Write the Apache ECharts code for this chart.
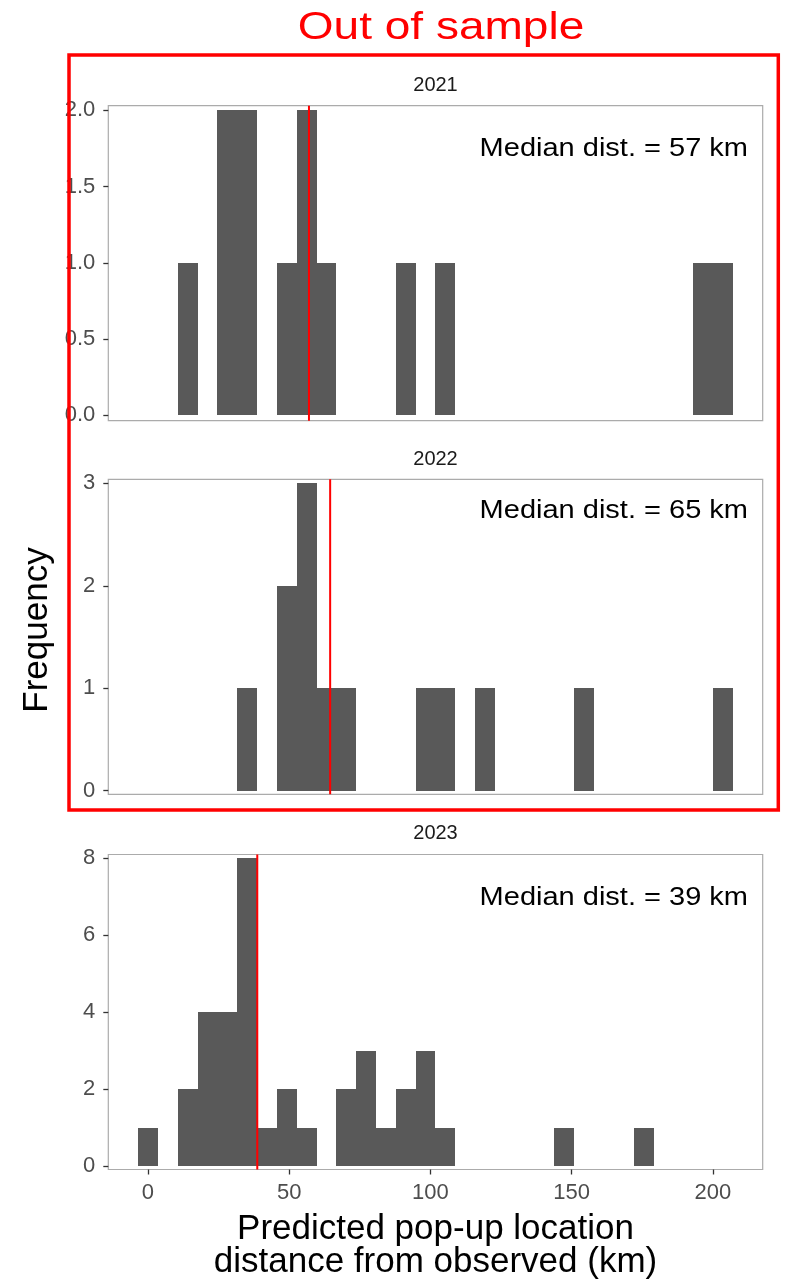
<!DOCTYPE html>
<html>
<head>
<meta charset="utf-8">
<script src="https://cdn.jsdelivr.net/npm/echarts@6/dist/echarts.min.js"></script>
<style>
  html, body { margin: 0; padding: 0; background: #ffffff; }
  #chart { width: 785px; height: 1283px; }
</style>
</head>
<body>
<div id="chart"></div>
<script>
// ---------- data ----------
const years = ['2021', '2022', '2023'];
// histogram bin edges (km), 30 bins
const binEdges = [-3.51, 3.51, 10.53, 17.55, 24.57, 31.59, 38.61, 45.63, 52.65, 59.67,
  66.69, 73.71, 80.73, 87.75, 94.77, 101.79, 108.81, 115.83, 122.85, 129.87,
  136.89, 143.91, 150.93, 157.95, 164.97, 171.99, 179.01, 186.03, 193.05, 200.07, 207.09];
const counts2021 = [0,0,1,0,2,2,0,1,2,1,0,0,0,1,0,1,0,0,0,0,0,0,0,0,0,0,0,0,1,1];
const counts2022 = [0,0,0,0,0,1,0,2,3,1,1,0,0,0,1,1,0,1,0,0,0,0,1,0,0,0,0,0,0,1];
const counts2023 = [1,0,2,4,4,8,1,2,1,0,2,3,1,2,3,1,0,0,0,0,0,1,0,0,0,1,0,0,0,0];
const medianKm = [57, 64.5, 38.7];
const medianText = ['Median dist. = 57 km', 'Median dist. = 65 km', 'Median dist. = 39 km'];
const yTicks2021 = [0, 0.5, 1, 1.5, 2];
const yTicks2022 = [0, 1, 2, 3];
const yTicks2023 = [0, 2, 4, 6, 8];
const xTicks = [0, 50, 100, 150, 200];
const titleText = 'Out of sample';
const yTitle = 'Frequency';
const xTitle1 = 'Predicted pop-up location';
const xTitle2 = 'distance from observed (km)';

// ---------- layout ----------
const FONT = '"Liberation Sans", Arial, sans-serif';
const allCounts = [counts2021, counts2022, counts2023];
const allTicks = [yTicks2021, yTicks2022, yTicks2023];
const yRange = [[-0.035, 2.03], [-0.035, 3.04], [-0.085, 8.085]];
const gridTops = [105.7, 479.3, 854.5];
const gridLeft = 108.3, gridWidth = 654.4, gridHeight = 315;
const xMin = -14.04, xMax = 217.63;

const chart = echarts.init(document.getElementById('chart'), null, { renderer: 'canvas' });

const grids = [], xAxes = [], yAxes = [], series = [];
for (let i = 0; i < 3; i++) {
  grids.push({
    left: gridLeft, top: gridTops[i], width: gridWidth, height: gridHeight,
    show: true, borderColor: '#ABABAB', borderWidth: 1.2, backgroundColor: '#fff',
    containLabel: false, outerBoundsMode: 'none'
  });
  const bottom = i === 2;
  xAxes.push({
    gridIndex: i, type: 'value', min: xMin, max: xMax, position: 'bottom',
    axisLine: { show: false, onZero: false }, splitLine: { show: false },
    axisTick: { show: bottom, length: 5, lineStyle: { color: '#333', width: 1.3 }, customValues: xTicks },
    axisLabel: { show: bottom, customValues: xTicks, fontSize: 22, color: '#4D4D4D', fontFamily: FONT, margin: 12 }
  });
  yAxes.push({
    gridIndex: i, type: 'value', min: yRange[i][0], max: yRange[i][1], position: 'left',
    axisLine: { show: false, onZero: false }, splitLine: { show: false },
    axisTick: { show: true, length: 5, lineStyle: { color: '#333', width: 1.3 }, customValues: allTicks[i] },
    axisLabel: {
      customValues: allTicks[i], fontSize: 22, color: '#4D4D4D', fontFamily: FONT, margin: 13,
      formatter: i === 0 ? (v => Number(v).toFixed(1)) : (v => String(Math.round(v)))
    }
  });
  const data = [];
  allCounts[i].forEach((c, k) => { if (c > 0) data.push([binEdges[k], binEdges[k + 1], c]); });
  series.push({
    type: 'custom', xAxisIndex: i, yAxisIndex: i, silent: true,
    encode: { x: [0, 1], y: 2 },
    renderItem: function (params, api) {
      const p0 = api.coord([api.value(0), api.value(2)]);
      const p1 = api.coord([api.value(1), 0]);
      const x0 = Math.round(p0[0]), x1 = Math.round(p1[0]);
      const y0 = Math.round(p0[1]), y1 = Math.round(p1[1]);
      return {
        type: 'rect',
        shape: { x: x0, y: y0, width: x1 - x0, height: y1 - y0 },
        style: { fill: '#595959' }
      };
    },
    data: data
  });
  series.push({
    type: 'line', xAxisIndex: i, yAxisIndex: i, silent: true, symbol: 'none', z: 5,
    lineStyle: { color: '#FF0000', width: 2 },
    data: [[medianKm[i], yRange[i][0]], [medianKm[i], yRange[i][1]]]
  });
}

const stripY = [85, 459.4, 833.4];
const medY = [149, 511, 898.5];
const graphic = [
  { type: 'text', x: 441, y: 28, scaleX: 1.18, z: 100,
    style: { text: titleText, fill: '#FF0000', font: '39px ' + FONT, textAlign: 'center', textVerticalAlign: 'middle' } },
  { type: 'rect', z: 100, shape: { x: 69, y: 55, width: 709.3, height: 755 },
    style: { fill: 'none', stroke: '#FF0000', lineWidth: 3.5 } },
  { type: 'text', x: 37, y: 630, rotation: Math.PI / 2, z: 100,
    style: { text: yTitle, fill: '#000', font: '35px ' + FONT, textAlign: 'center', textVerticalAlign: 'middle' } },
  { type: 'text', x: 435.5, y: 1229.5, z: 100,
    style: { text: xTitle1, fill: '#000', font: '35px ' + FONT, textAlign: 'center', textVerticalAlign: 'middle' } },
  { type: 'text', x: 435.5, y: 1262.5, z: 100,
    style: { text: xTitle2, fill: '#000', font: '35px ' + FONT, textAlign: 'center', textVerticalAlign: 'middle' } }
];
for (let i = 0; i < 3; i++) {
  graphic.push({ type: 'text', x: 435.5, y: stripY[i], z: 100,
    style: { text: years[i], fill: '#1A1A1A', font: '20px ' + FONT, textAlign: 'center', textVerticalAlign: 'middle' } });
  graphic.push({ type: 'text', x: 748, y: medY[i], scaleX: 1.16, z: 100,
    style: { text: medianText[i], fill: '#000', font: '25px ' + FONT, textAlign: 'right', textVerticalAlign: 'middle' } });
}

chart.setOption({
  animation: false,
  backgroundColor: '#ffffff',
  grid: grids,
  xAxis: xAxes,
  yAxis: yAxes,
  series: series,
  graphic: graphic
});
</script>
</body>
</html>
